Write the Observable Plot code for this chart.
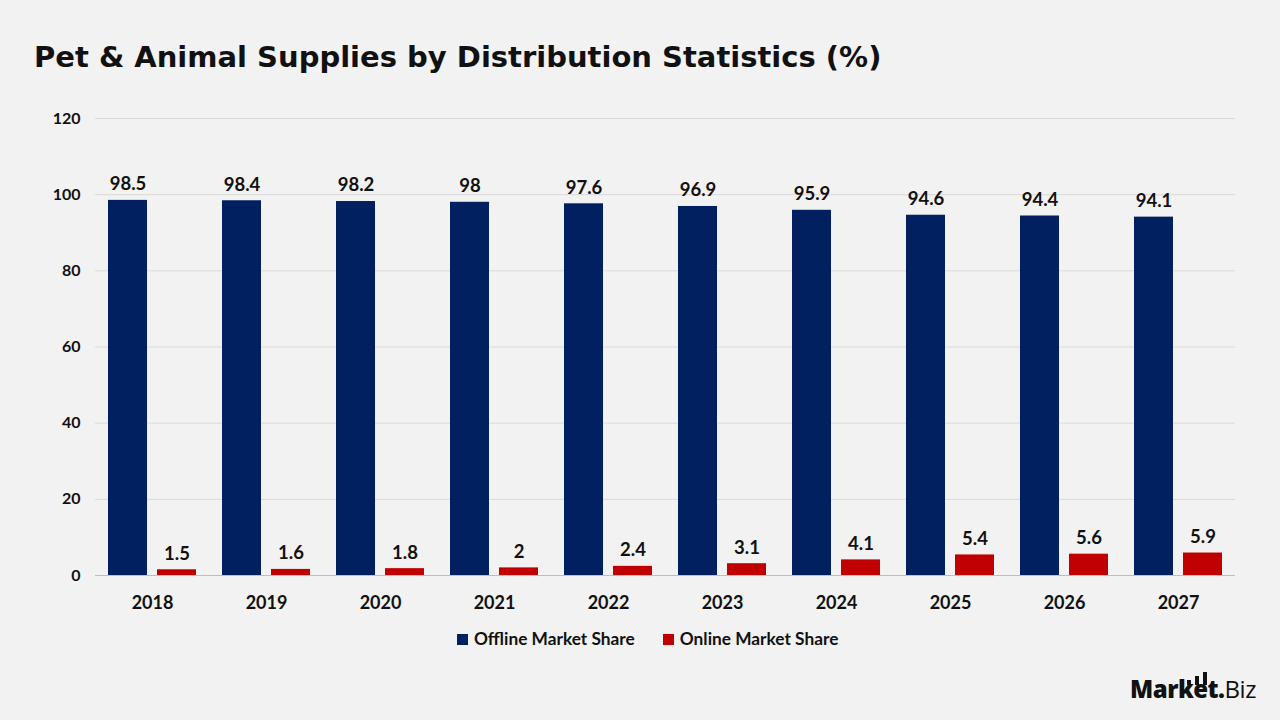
<!DOCTYPE html>
<html>
<head>
<meta charset="utf-8">
<script src="https://cdn.jsdelivr.net/npm/d3@7"></script>
<script src="https://cdn.jsdelivr.net/npm/@observablehq/plot@0.6"></script>
<style>
  html, body { margin: 0; padding: 0; background: #f2f2f2; width: 1280px; height: 720px; overflow: hidden; }
  #title { position: absolute; left: 34px; top: 40px; font-family: "DejaVu Sans", sans-serif; font-weight: 700; font-size: 29px; color: #111; letter-spacing: 0px; }
  #chart { position: absolute; left: 0; top: 90px; }
  #legend { position: absolute; left: 457px; top: 628px; font-family: Lato, sans-serif; font-weight: 700; font-size: 17.3px; color: #111; display: flex; gap: 28px; }
  #legend span.sw { display: inline-block; width: 11px; height: 11px; margin-right: 6px; vertical-align: 0px; }
  #logo { position: absolute; left: 1130px; top: 674px; font-family: "Open Sans", sans-serif; font-size: 24px; color: #111; letter-spacing: -0.5px; line-height: 30px; }
  #logo b { font-weight: 800; }
  .lbar { position: absolute; width: 4px; background: #111; }
</style>
</head>
<body>
<div id="title">Pet &amp; Animal Supplies by Distribution Statistics (%)</div>
<div id="chart"></div>
<div id="legend"></div>
<div id="logo"><b>Market.</b>Biz</div>
<div class="lbar" style="left:1187px;top:680px;height:5px"></div>
<div class="lbar" style="left:1195px;top:676px;height:9px"></div>
<div class="lbar" style="left:1203px;top:672px;height:13px"></div>
<script>
const years = ["2018","2019","2020","2021","2022","2023","2024","2025","2026","2027"];
const seriesNames = ["Offline Market Share", "Online Market Share"];
const offline = [98.5, 98.4, 98.2, 98, 97.6, 96.9, 95.9, 94.6, 94.4, 94.1];
const online = [1.5, 1.6, 1.8, 2, 2.4, 3.1, 4.1, 5.4, 5.6, 5.9];
const colors = ["#002060", "#C00000"];
const yTicks = [0, 20, 40, 60, 80, 100, 120];

const data = [];
years.forEach((y, i) => {
  data.push({year: y, series: seriesNames[0], value: offline[i]});
  data.push({year: y, series: seriesNames[1], value: online[i]});
});

const font = "Lato, sans-serif";
const chart = Plot.plot({
  width: 1280,
  height: 530,
  marginLeft: 93,
  marginRight: 44,
  marginTop: 28,
  marginBottom: 45,
  style: {background: "transparent", fontFamily: font, fontWeight: "bold", color: "#111"},
  fx: {domain: years, paddingInner: 0, paddingOuter: 0, label: null},
  x: {domain: seriesNames, paddingInner: 0.204, paddingOuter: 0.25, axis: null},
  y: {domain: [0, 120], label: null},
  color: {domain: seriesNames, range: colors},
  marks: [
    Plot.ruleY(yTicks.filter(d => d > 0), {stroke: "#d9d9d9", strokeWidth: 1}),
    Plot.axisY(yTicks, {tickSize: 0, tickPadding: 15, fontSize: 16, fontWeight: "bold", fill: "#111", label: null}),
    Plot.axisFx({anchor: "bottom", tickSize: 0, tickPadding: 21, fontSize: 18, fontWeight: "bold", fill: "#111", label: null}),
    Plot.barY(data, {fx: "year", x: "series", y: "value", fill: "series"}),
    Plot.ruleY([0], {stroke: "#bfbfbf", strokeWidth: 1}),
    Plot.text(data, {fx: "year", x: "series", y: "value", text: d => String(d.value), dy: -16, fontSize: 18.5, fontWeight: "bold", fill: "#111"})
  ]
});
document.getElementById("chart").appendChild(chart);

const legend = document.getElementById("legend");
seriesNames.forEach((s, i) => {
  const el = document.createElement("div");
  el.innerHTML = `<span class="sw" style="background:${colors[i]}"></span>${s}`;
  legend.appendChild(el);
});
</script>
</body>
</html>
